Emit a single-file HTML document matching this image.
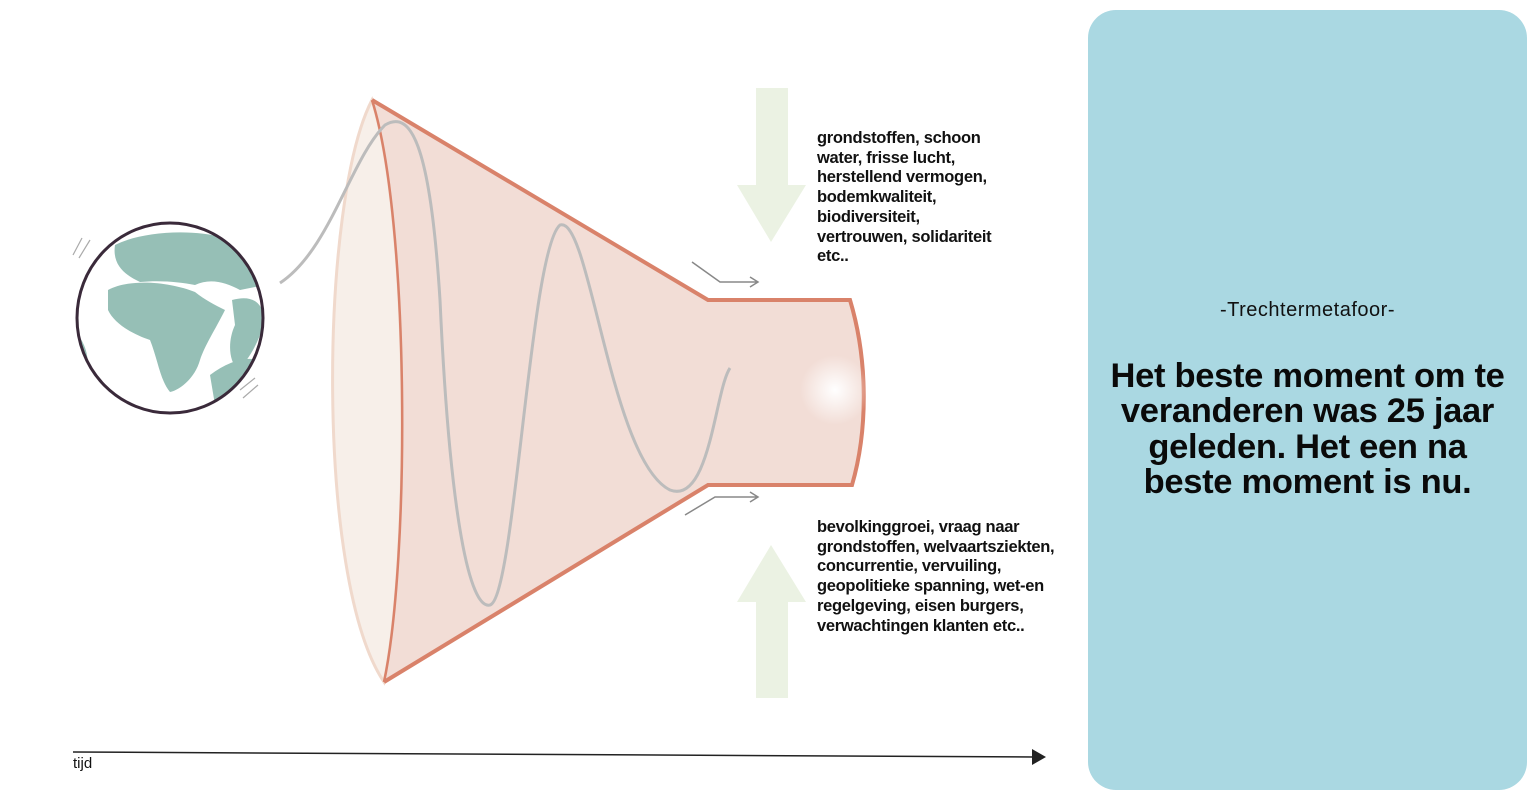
<!DOCTYPE html>
<html><head><meta charset="utf-8"><style>
body{margin:0;width:1536px;height:805px;background:#fff;position:relative;overflow:hidden;font-family:"Liberation Sans","DejaVu Sans",sans-serif}
.t{position:absolute;left:817px;font-size:16.5px;font-weight:bold;line-height:19.7px;color:#111;letter-spacing:-0.3px}
.panel{position:absolute;left:1088px;top:10px;width:439px;height:780px;background:#aad8e2;border-radius:28px}
.sub{position:absolute;left:0;width:100%;top:289px;text-align:center;font-size:20px;color:#111;letter-spacing:0.5px}
.h{position:absolute;left:0;width:100%;top:349px;text-align:center;font-size:34.5px;font-weight:bold;line-height:35.3px;color:#0a0a0a;letter-spacing:-0.3px}
</style></head><body>
<svg width="1536" height="805" style="position:absolute;left:0;top:0">
<defs><radialGradient id="g"><stop offset="0" stop-color="#fff"/><stop offset="1" stop-color="#fff" stop-opacity="0"/></radialGradient>
<clipPath id="c"><ellipse cx="170" cy="318" rx="92" ry="94"/></clipPath></defs>
<path d="M372,100 C320,200 315,580 384,682 C410,560 410,220 372,100Z" fill="#f7efe9" stroke="#f0d9cc" stroke-width="3"/>
<path d="M372,100 L708,300 L850,300 C868,360 868,430 852,485 L708,485 L384,682 C410,560 410,220 372,100Z" fill="#f2ddd6"/>
<path d="M372,100 L708,300 L850,300 C868,360 868,430 852,485 L708,485 L384,682" fill="none" stroke="#d9826a" stroke-width="4"/>
<path d="M372,100 C410,220 410,560 384,682" fill="none" stroke="#d9826a" stroke-width="2.5"/>
<path d="M280,283 C330,250 350,160 385,125 C410,110 430,140 440,300 C450,520 470,610 490,605 C515,598 530,250 560,225 C590,215 610,460 670,490 C710,505 715,390 730,368" fill="none" stroke="#bcbcbc" stroke-width="3"/>
<circle cx="835" cy="390" r="35" fill="url(#g)"/>
<path d="M692,262 L720,282 L758,282 M750,277 L758,282 L750,287" fill="none" stroke="#888" stroke-width="1.5"/>
<path d="M685,515 L715,497 L758,497 M750,492 L758,497 L750,502" fill="none" stroke="#888" stroke-width="1.5"/>
<path d="M756,88 H788 V185 H806 L771,242 L737,185 H756Z" fill="#ebf2e3"/>
<path d="M771,545 L806,602 H788 V698 H756 V602 H737Z" fill="#ebf2e3"/>
<ellipse cx="170" cy="318" rx="93" ry="95" fill="#fff"/>
<g clip-path="url(#c)" fill="#96bfb6">
<path d="M115,245 C140,232 190,228 225,238 C250,250 262,270 265,285 L240,290 C225,282 210,278 195,285 C180,282 160,280 140,282 C125,275 112,265 115,245Z"/>
<path d="M108,290 C130,278 170,282 195,292 C205,300 215,305 225,310 C215,330 205,345 200,360 C195,378 180,390 170,392 C160,380 158,360 150,340 C135,335 115,325 108,310Z"/>
<path d="M232,300 C250,295 262,300 265,320 C258,345 248,360 238,370 C228,360 228,340 235,325Z"/>
<path d="M210,375 C230,360 250,355 262,362 C255,385 240,400 215,405Z"/>
<path d="M78,335 C86,345 90,360 86,372 L78,372Z"/>
</g>
<ellipse cx="170" cy="318" rx="93" ry="95" fill="none" stroke="#3a2a3a" stroke-width="3"/>
<path d="M73,255 L82,238 M79,258 L90,240 M240,390 L255,378 M243,398 L258,385" stroke="#aaa" stroke-width="1.2"/>
<line x1="73" y1="752" x2="1034" y2="757" stroke="#222" stroke-width="1.5"/>
<path d="M1032,749 L1046,757 L1032,765Z" fill="#222"/>
</svg>
<div class="t" style="top:129px">grondstoffen, schoon<br>water, frisse lucht,<br>herstellend vermogen,<br>bodemkwaliteit,<br>biodiversiteit,<br>vertrouwen, solidariteit<br>etc..</div>
<div class="t" style="top:518px">bevolkinggroei, vraag naar<br>grondstoffen, welvaartsziekten,<br>concurrentie, vervuiling,<br>geopolitieke spanning, wet-en<br>regelgeving, eisen burgers,<br>verwachtingen klanten etc..</div>
<div style="position:absolute;left:73px;top:755px;font-size:15px;color:#111">tijd</div>
<div class="panel">
<div class="sub">-Trechtermetafoor-</div>
<div class="h">Het beste moment om te<br>veranderen was 25 jaar<br>geleden. Het een na<br>beste moment is nu.</div>
</div>
</body></html>
